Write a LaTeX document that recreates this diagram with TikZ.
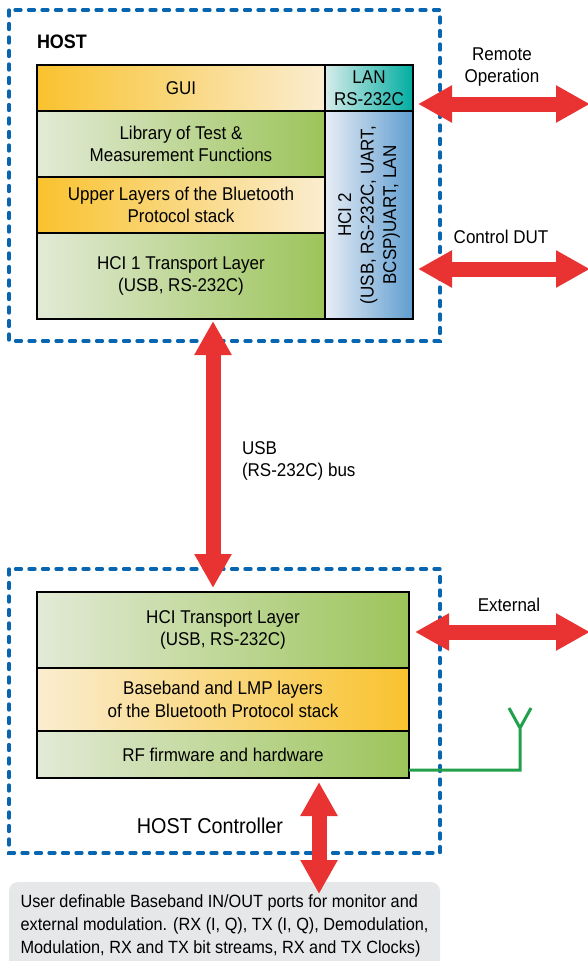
\documentclass[tikz,border=0pt]{standalone}
\usepackage{fontspec}
\setmainfont{Liberation Sans}[FakeStretch=0.92]
\usetikzlibrary{calc,arrows.meta,positioning}

\definecolor{warmdark}{HTML}{F9C22E}
\definecolor{warmlight}{HTML}{FAEDD0}
\definecolor{greenlight}{HTML}{E2EAD6}
\definecolor{greendark}{HTML}{9CC45A}
\definecolor{lanlight}{HTML}{D7ECEA}
\definecolor{landark}{HTML}{00ADA1}
\definecolor{hcilight}{HTML}{E8EDF5}
\definecolor{hcidark}{HTML}{5F9DD0}
\definecolor{frameblue}{HTML}{0866B0}
\definecolor{arrowred}{HTML}{E93232}
\definecolor{antgreen}{HTML}{22A04B}
\definecolor{portgray}{HTML}{E6E7E8}

\begin{document}
\begin{tikzpicture}[
        %We set the units and define some styles
        x=1pt, y=-1pt,
        every node/.style={color=black, inner sep=0pt, outer sep=0pt,
            font=\fontsize{18.5}{22.5}\selectfont},
        layer/.style={draw=black, line width=2pt, anchor=north west, align=center},
        warm layer/.style={layer, left color=warmdark, right color=warmlight},
        warm back/.style={layer, left color=warmlight, right color=warmdark},
        green layer/.style={layer, left color=greenlight, right color=greendark},
        dashed frame/.style={draw=frameblue, line width=3.3pt, line cap=round,
            dash pattern=on 6pt off 7.5pt},
        both way/.style={draw=arrowred, line width=15pt,
            {Triangle[width=35pt,length=34pt]}-{Triangle[width=35pt,length=34pt]}},
        antenna/.style={draw=antgreen, line width=3pt},
        ports box/.style={fill=portgray, rounded corners=9pt, minimum width=431pt,
            minimum height=88pt, align=left,
            font=\fontsize{17.7}{23}\selectfont}
]
    \useasboundingbox (0,0) rectangle (588,961);

    % the two dashed frames
    \draw[dashed frame] (9,10) rectangle (440,341);
    \draw[dashed frame] (9,569) rectangle (440,853);

    % host stack
    \node[font=\bfseries\fontsize{19.5}{22}\selectfont, anchor=west] (host) at (37,42) {HOST};
    \node[warm layer, minimum width=288pt, minimum height=46pt] (gui) at (37,65) {GUI};
    \node[green layer, minimum width=288pt, minimum height=66pt] (lib) at (gui.south west)
        {Library of Test \&\\Measurement Functions};
    \node[warm layer, minimum width=288pt, minimum height=56pt] (upper) at (lib.south west)
        {Upper Layers of the Bluetooth\\Protocol stack};
    \node[green layer, minimum width=288pt, minimum height=86pt] (hci1) at (upper.south west)
        {HCI 1 Transport Layer\\(USB, RS-232C)};
    \node[layer, left color=lanlight, right color=landark, minimum width=88pt,
        minimum height=46pt] (lan) at (gui.north east) {LAN\\RS-232C};
    \node[layer, left color=hcilight, right color=hcidark, minimum width=88pt,
        minimum height=208pt] (hci2) at (lan.south west) {};
    \node[rotate=90, align=center] (hci2 text) at (hci2.center)
        {HCI 2\\(USB, RS-232C, UART,\\BCSP)UART, LAN};

    % host controller stack
    \node[green layer, minimum width=372pt, minimum height=76pt] (hct) at (37,592)
        {HCI Transport Layer\\(USB, RS-232C)};
    \node[warm back, minimum width=372pt, minimum height=63pt] (bb) at (hct.south west)
        {Baseband and LMP layers\\of the Bluetooth Protocol stack};
    \node[green layer, minimum width=372pt, minimum height=47pt] (rf) at (bb.south west)
        {RF firmware and hardware};
    \node[font=\fontsize{21.5}{24}\selectfont] (ctrl) at (210,826) {HOST Controller};

    % outside connections
    \coordinate (remote) at (590,104);
    \coordinate (dut) at (590,269);
    \coordinate (ext) at (590,632);
    \draw[both way] ($(lan.east)+(5,16)$) -- (remote);
    \draw[both way] ($(hci2.east)+(5,54)$) -- (dut);
    \draw[both way] ($(hct.east)+(6,2)$) -- (ext);
    \node[align=center] (remote text) at (502,67) {Remote\\Operation};
    \node (dut text) at (501,237) {Control DUT};
    \node (ext text) at (509,605) {External};

    % bus between host and controller
    \draw[both way] ($(hci1.south)+(32,2)$) -- ($(hct.north)+(-10,-4)$);
    \node[anchor=west, align=left] (bus text) at (242,461) {USB\\(RS-232C) bus};

    % antenna
    \coordinate (ant) at (520,728);
    \draw[antenna] ($(rf.south east)+(0,-8)$) -| (ant) -- ++(-11,-20) (ant) -- ++(11,-20);

    % baseband ports
    \node[ports box] (ports) at (224.5,926)
        {User definable Baseband IN/OUT ports for monitor and\\
         external modulation. (RX (I, Q), TX (I, Q), Demodulation,\\
         Modulation, RX and TX bit streams, RX and TX Clocks)};
    \draw[both way] ($(rf.south)+(96,4)$) -- ($(rf.south)+(96,116)$);
\end{tikzpicture}
\end{document}
